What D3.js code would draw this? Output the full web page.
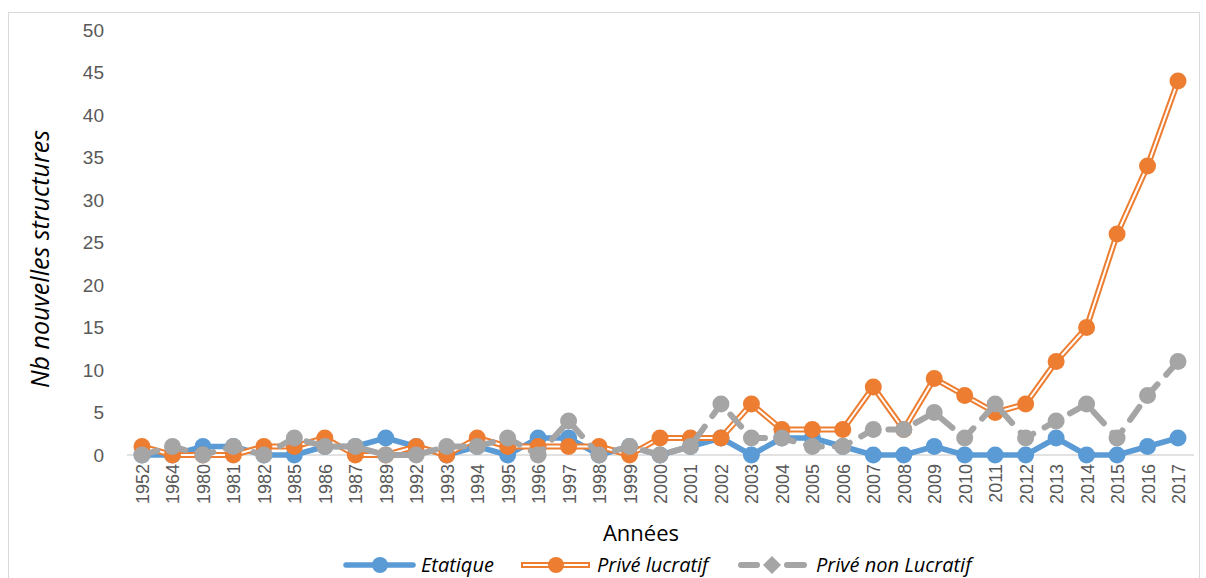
<!DOCTYPE html>
<html>
<head>
<meta charset="utf-8">
<script src="https://cdn.jsdelivr.net/npm/d3@7"></script>
<style>
  body { margin: 0; background: #fff; }
  svg { display: block; font-family: "Open Sans", "Liberation Sans", sans-serif; }
</style>
</head>
<body>
<script>
var years = ["1952","1964","1980","1981","1982","1985","1986","1987","1989","1992","1993","1994","1995","1996","1997","1998","1999","2000","2001","2002","2003","2004","2005","2006","2007","2008","2009","2010","2011","2012","2013","2014","2015","2016","2017"];
var etatique = [0,0,1,1,0,0,1,1,2,1,0,1,0,2,2,0,1,0,1,2,0,2,2,1,0,0,1,0,0,0,2,0,0,1,2];
var priveLucratif = [1,0,0,0,1,1,2,0,0,1,0,2,1,1,1,1,0,2,2,2,6,3,3,3,8,3,9,7,5,6,11,15,26,34,44];
var priveNonLucratif = [0,1,0,1,0,2,1,1,0,0,1,1,2,0,4,0,1,0,1,6,2,2,1,1,3,3,5,2,6,2,4,6,2,7,11];
var yTicks = [0,5,10,15,20,25,30,35,40,45,50];

var width = 1206, height = 578;

var svg = d3.select("body").append("svg").attr("width",width).attr("height",height);

// cadre
svg.append("rect").attr("x",8.5).attr("y",12.5).attr("width",1191).attr("height",580)
  .attr("fill","none").attr("stroke","#d9d9d9").attr("stroke-width",1);

var x = d3.scalePoint().domain(years).range([142,1178]);
var y = d3.scaleLinear().domain([0,50]).range([455,30]);

// ligne de base
svg.append("line").attr("x1",127).attr("x2",1194).attr("y1",y(0)).attr("y2",y(0))
  .attr("stroke","#d9d9d9").attr("stroke-width",1.5);

var yAxis = d3.axisLeft(y).tickValues(yTicks).tickSize(0).tickPadding(0);
var gy = svg.append("g").attr("transform","translate(104,0)").call(yAxis);
gy.select(".domain").remove();
gy.selectAll("text").attr("fill","#595959").style("font-size","19px");

var xAxis = d3.axisBottom(x).tickSize(0);
var gx = svg.append("g").attr("transform","translate(0,"+y(0)+")").call(xAxis);
gx.select(".domain").remove();
gx.selectAll("text")
  .attr("fill","#595959").style("font-size","18px")
  .attr("transform","rotate(-90)")
  .attr("text-anchor","end").attr("dx","-9px").attr("dy","0.36em")
  .attr("x",0).attr("y",0);

svg.append("text").attr("x",641).attr("y",541).attr("text-anchor","middle")
  .style("font-size","22px").attr("fill","#000").text("Années");
svg.append("text").attr("transform","translate(49,259) rotate(-90)").attr("text-anchor","middle")
  .style("font-size","25px").style("font-style","italic").attr("fill","#000").text("Nb nouvelles structures");

var line = d3.line().x(function(d,i){ return x(years[i]); }).y(function(d){ return y(d); });

// Etatique
svg.append("path").attr("d",line(etatique)).attr("fill","none")
  .attr("stroke","#5B9BD5").attr("stroke-width",5.5).attr("stroke-linejoin","round");
svg.selectAll(".c-eta").data(etatique).enter().append("circle")
  .attr("cx",function(d,i){ return x(years[i]); }).attr("cy",function(d){ return y(d); })
  .attr("r",8.5).attr("fill","#5B9BD5");

// Privé lucratif (double ligne)
svg.append("path").attr("d",line(priveLucratif)).attr("fill","none")
  .attr("stroke","#ED7D31").attr("stroke-width",6).attr("stroke-linejoin","round");
svg.append("path").attr("d",line(priveLucratif)).attr("fill","none")
  .attr("stroke","#fff").attr("stroke-width",2).attr("stroke-linejoin","round");
svg.selectAll(".c-pl").data(priveLucratif).enter().append("circle")
  .attr("cx",function(d,i){ return x(years[i]); }).attr("cy",function(d){ return y(d); })
  .attr("r",8.5).attr("fill","#ED7D31");

// Privé non lucratif
svg.append("path").attr("d",line(priveNonLucratif)).attr("fill","none")
  .attr("stroke","#A5A5A5").attr("stroke-width",6).attr("stroke-linecap","round")
  .attr("stroke-dasharray","16,13").attr("stroke-linejoin","round");
svg.selectAll(".c-pnl").data(priveNonLucratif).enter().append("circle")
  .attr("cx",function(d,i){ return x(years[i]); }).attr("cy",function(d){ return y(d); })
  .attr("r",8.5).attr("fill","#A5A5A5");

// légende
var ly = 565;
var leg = svg.append("g");
leg.append("line").attr("x1",346).attr("x2",413).attr("y1",ly).attr("y2",ly)
  .attr("stroke","#5B9BD5").attr("stroke-width",5.5).attr("stroke-linecap","round");
leg.append("circle").attr("cx",380).attr("cy",ly).attr("r",8).attr("fill","#5B9BD5");
leg.append("text").attr("x",421).attr("y",ly+7).style("font-size","20px").style("font-style","italic").text("Etatique");

leg.append("line").attr("x1",521).attr("x2",590).attr("y1",ly).attr("y2",ly)
  .attr("stroke","#ED7D31").attr("stroke-width",6);
leg.append("line").attr("x1",523).attr("x2",588).attr("y1",ly).attr("y2",ly)
  .attr("stroke","#fff").attr("stroke-width",2);
leg.append("circle").attr("cx",556).attr("cy",ly).attr("r",8).attr("fill","#ED7D31");
leg.append("text").attr("x",597).attr("y",ly+7).style("font-size","20px").style("font-style","italic").text("Privé lucratif");

leg.append("line").attr("x1",741).attr("x2",757).attr("y1",ly).attr("y2",ly)
  .attr("stroke","#A5A5A5").attr("stroke-width",6).attr("stroke-linecap","round");
leg.append("line").attr("x1",787).attr("x2",804).attr("y1",ly).attr("y2",ly)
  .attr("stroke","#A5A5A5").attr("stroke-width",6).attr("stroke-linecap","round");
leg.append("path").attr("d","M772,"+(ly-9)+"L781,"+ly+"L772,"+(ly+9)+"L763,"+ly+"Z").attr("fill","#A5A5A5");
leg.append("text").attr("x",816).attr("y",ly+7).style("font-size","20px").style("font-style","italic").text("Privé non Lucratif");
</script>
</body>
</html>
